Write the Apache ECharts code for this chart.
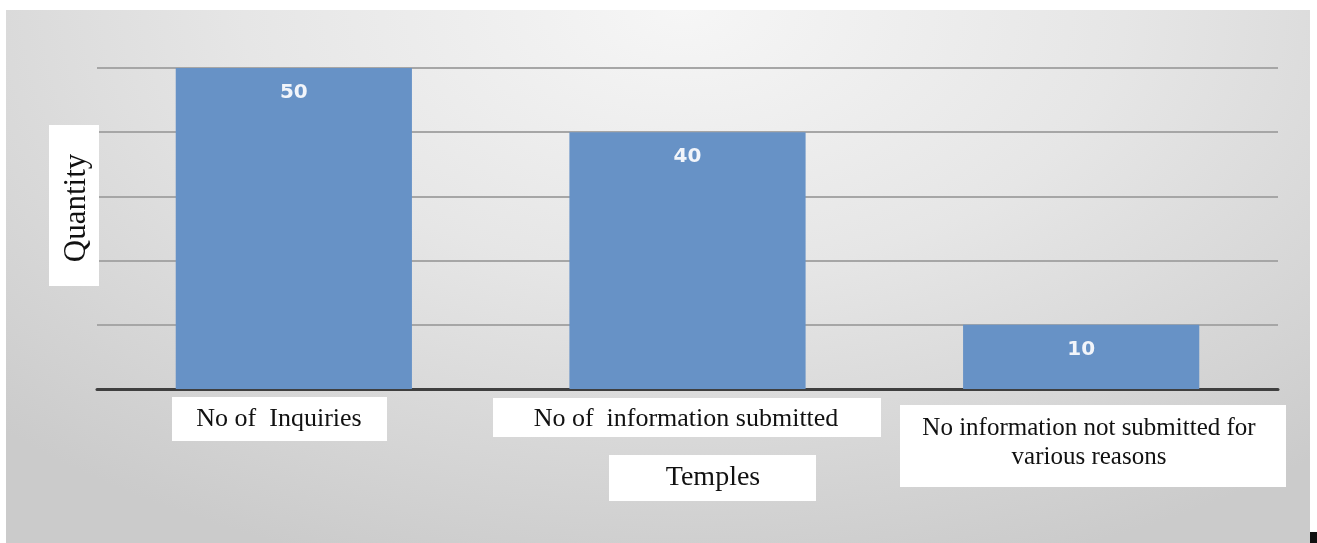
<!DOCTYPE html>
<html>
<head>
<meta charset="utf-8">
<script src="https://cdn.jsdelivr.net/npm/echarts@6/dist/echarts.min.js"></script>
<style>
  html, body { margin: 0; padding: 0; background: #ffffff; }
  #panel { position: absolute; left: 6px; top: 10px; width: 1304px; height: 533px;
    background: radial-gradient(ellipse 75% 110% at 52% 0%, #f6f6f6 0%, #e6e6e6 45%, #cbcbcb 100%); }
  #chart { position: absolute; left: 0; top: 0; width: 1317px; height: 543px; }
  #mark { position: absolute; left: 1310px; top: 532px; width: 7px; height: 11px; background: #111; }
</style>
</head>
<body>
<div id="panel"></div>
<div id="mark"></div>
<div id="chart"></div>
<script>
const categories = ['No of  Inquiries', 'No of  information submitted', 'No information not submitted for\nvarious reasons'];
const values = [50, 40, 10];
const xAxisTitle = 'Temples';
const yAxisTitle = 'Quantity';

const chart = echarts.init(document.getElementById('chart'), null, { renderer: 'canvas' });

const serif = '"Liberation Serif", "Times New Roman", serif';

function boxLabel(x, y, w, h, text, cx, cy, size, lineHeight) {
  return {
    type: 'group',
    children: [
      { type: 'rect', shape: { x: x, y: y, width: w, height: h }, style: { fill: '#ffffff' }, z: 10 },
      { type: 'text', x: cx, y: cy, z: 11,
        style: { text: text, font: size + 'px ' + serif, fill: '#111111', align: 'center', verticalAlign: 'middle', lineHeight: lineHeight || size } }
    ]
  };
}

const option = {
  backgroundColor: 'transparent',
  animation: false,
  grid: { left: 97, right: 39, top: 68, bottom: 154, containLabel: false },
  xAxis: {
    type: 'category',
    data: categories,
    axisLine: { show: true, lineStyle: { color: '#3f3f3f', width: 3 } },
    axisTick: { show: false },
    axisLabel: { show: false },
    splitLine: { show: false }
  },
  yAxis: {
    type: 'value',
    min: 0, max: 50, interval: 10,
    axisLine: { show: false },
    axisTick: { show: false },
    axisLabel: { show: false },
    splitLine: { show: true, lineStyle: { color: '#a6a6a6', width: 2 } }
  },
  series: [{
    type: 'bar',
    data: values,
    barWidth: '60%',
    itemStyle: { color: '#6792c6' },
    label: {
      show: true, position: 'insideTop', distance: 15,
      color: '#f2f5fa', fontFamily: '"DejaVu Sans", sans-serif', fontWeight: 'bold', fontSize: 20
    }
  }],
  graphic: [
    boxLabel(172, 397, 215, 44, categories[0], 279, 419, 26),
    boxLabel(493, 398, 388, 39, categories[1], 686, 419, 26),
    boxLabel(900, 405, 386, 82, categories[2], 1089, 443, 25, 29),
    boxLabel(609, 455, 207, 46, xAxisTitle, 713, 478, 28),
    {
      type: 'group',
      children: [
        { type: 'rect', shape: { x: 49, y: 125, width: 50, height: 161 }, style: { fill: '#ffffff' }, z: 10 },
        { type: 'text', x: 77, y: 208, rotation: Math.PI / 2, z: 11,
          style: { text: yAxisTitle, font: '31px ' + serif, fill: '#111111', align: 'center', verticalAlign: 'middle' } }
      ]
    }
  ]
};
chart.setOption(option);
</script>
</body>
</html>
